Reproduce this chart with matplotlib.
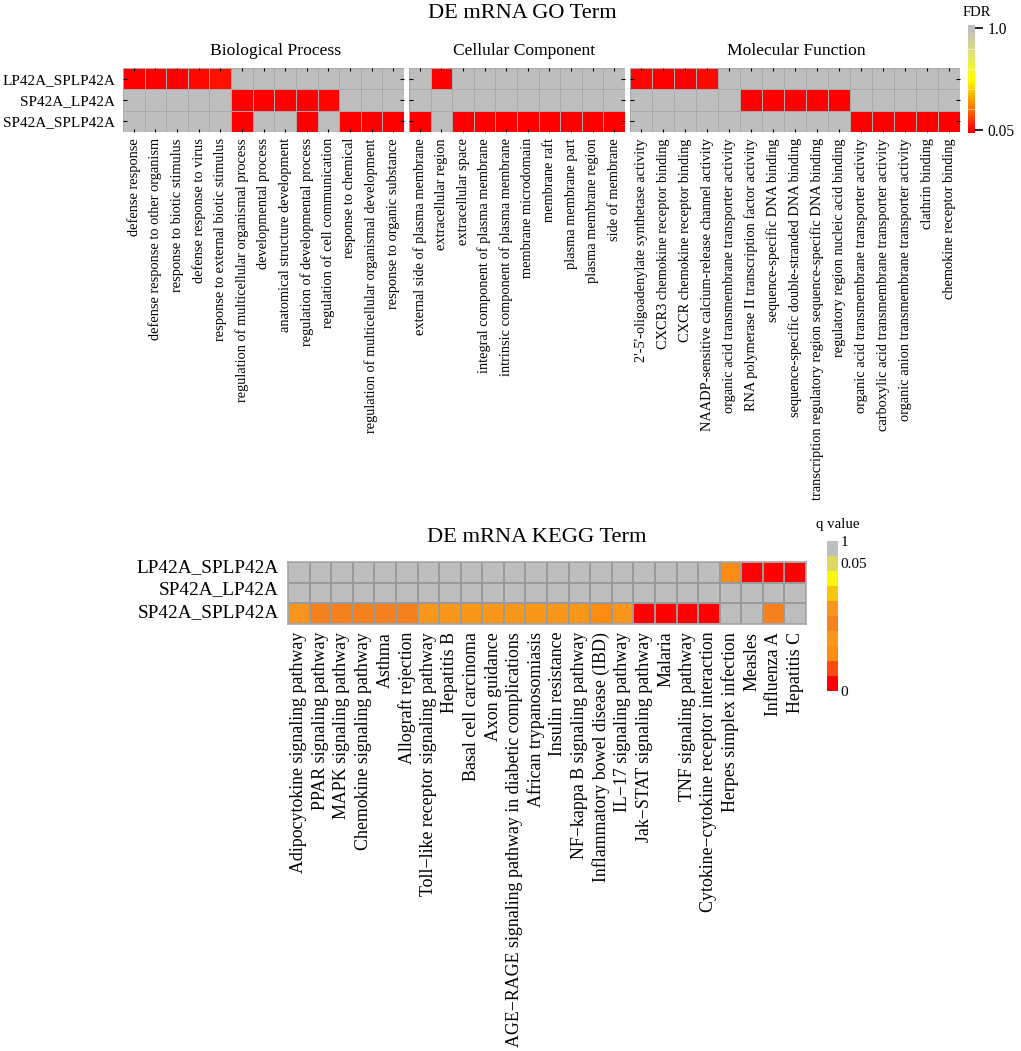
import matplotlib
matplotlib.use("Agg")
import matplotlib.pyplot as plt
import numpy as np
from matplotlib.colors import LinearSegmentedColormap, ListedColormap, BoundaryNorm, Normalize
from matplotlib.cm import ScalarMappable

plt.rcParams['font.family'] = ['Liberation Serif', 'DejaVu Sans']

rows = ["LP42A_SPLP42A", "SP42A_LP42A", "SP42A_SPLP42A"]

bp_terms = ["defense response", "defense response to other organism", "response to biotic stimulus",
            "defense response to virus", "response to external biotic stimulus",
            "regulation of multicellular organismal process", "developmental process",
            "anatomical structure development", "regulation of developmental process",
            "regulation of cell communication", "response to chemical",
            "regulation of multicellular organismal development", "response to organic substance"]
bp_row1 = [.05, .05, .05, .07, .08, 1, 1, 1, 1, 1, 1, 1, 1]
bp_row2 = [1, 1, 1, 1, 1, .05, .05, .05, .05, .06, 1, 1, 1]
bp_row3 = [1, 1, 1, 1, 1, .05, 1, 1, .05, 1, .05, .05, .05]

cc_terms = ["external side of plasma membrane", "extracellular region", "extracellular space",
            "integral component of plasma membrane", "intrinsic component of plasma membrane",
            "membrane microdomain", "membrane raft", "plasma membrane part",
            "plasma membrane region", "side of membrane"]
cc_row1 = [1, .05, 1, 1, 1, 1, 1, 1, 1, 1]
cc_row2 = [1, 1, 1, 1, 1, 1, 1, 1, 1, 1]
cc_row3 = [.05, 1, .05, .05, .05, .05, .05, .05, .05, .05]

mf_terms = ["2'-5'-oligoadenylate synthetase activity", "CXCR3 chemokine receptor binding",
            "CXCR chemokine receptor binding", "NAADP-sensitive calcium-release channel activity",
            "organic acid transmembrane transporter activity", "RNA polymerase II transcription factor activity",
            "sequence-specific DNA binding", "sequence-specific double-stranded DNA binding",
            "transcription regulatory region sequence-specific DNA binding", "regulatory region nucleic acid binding",
            "organic acid transmembrane transporter activity", "carboxylic acid transmembrane transporter activity",
            "organic anion transmembrane transporter activity", "clathrin binding", "chemokine receptor binding"]
mf_row1 = [.06, .05, .05, .07, 1, 1, 1, 1, 1, 1, 1, 1, 1, 1, 1]
mf_row2 = [1, 1, 1, 1, 1, .05, .05, .05, .05, .05, 1, 1, 1, 1, 1]
mf_row3 = [1, 1, 1, 1, 1, 1, 1, 1, 1, 1, .05, .05, .05, .05, .05]

kegg_terms = ["Adipocytokine signaling pathway", "PPAR signaling pathway", "MAPK signaling pathway",
              "Chemokine signaling pathway", "Asthma", "Allograft rejection",
              "Toll\u2212like receptor signaling pathway", "Hepatitis B", "Basal cell carcinoma", "Axon guidance",
              "AGE\u2212RAGE signaling pathway in diabetic complications", "African trypanosomiasis",
              "Insulin resistance", "NF\u2212kappa B signaling pathway", "Inflammatory bowel disease (IBD)",
              "IL\u221217 signaling pathway", "Jak\u2212STAT signaling pathway", "Malaria", "TNF signaling pathway",
              "Cytokine\u2212cytokine receptor interaction", "Herpes simplex infection", "Measles",
              "Influenza A", "Hepatitis C"]
kegg_row1 = [1] * 20 + [.012, .001, .001, .001]
kegg_row2 = [1] * 24
kegg_row3 = [.027, .022, .022, .022, .022, .022, .017, .017, .017, .017, .017, .017, .017, .017,
             .012, .017, .001, .001, .001, .001, 1, 1, .022, 1]

kegg_levels = [0, .005, .01, .015, .02, .025, .03, .035, .04, .06, 1]
kegg_colors = ["#ff0000", "#ff4a10", "#fc8c12", "#fa961a", "#f5821f", "#f9941c",
               "#fcc50a", "#f8f80c", "#dcd860", "#bebebe"]

go_cmap = LinearSegmentedColormap.from_list(
    "go", [(0, "#ff0000"), (.03, "#ff0000"), (.27, "#ff8c00"), (.5, "#ffff00"),
           (.75, "#e0e080"), (.97, "#bebebe"), (1, "#bebebe")])
go_norm = Normalize(0.02, 1.03)
kegg_cmap = ListedColormap(kegg_colors)
kegg_norm = BoundaryNorm(kegg_levels, kegg_cmap.N)

W, H = 1021, 1051
fig = plt.figure(figsize=(W / 100, H / 100), dpi=100)


def axpx(x0, y0, x1, y1):
    return fig.add_axes([x0 / W, 1 - y1 / H, (x1 - x0) / W, (y1 - y0) / H])


def go_panel(box, terms, r1, r2, r3, title, title_x, first=False):
    ax = axpx(*box)
    ax.pcolormesh(np.array([r1, r2, r3]), cmap=go_cmap, norm=go_norm,
                  edgecolors="#a9a9a9", linewidth=0.7)
    ax.set_ylim(3, 0)
    ax.set_xticks(np.arange(len(terms)) + .5)
    ax.set_xticklabels(terms, rotation=90, fontsize=10.4, ha="center", va="top")
    ax.set_yticks(np.arange(3) + .5)
    ax.set_yticklabels(rows if first else [], fontsize=11)
    ax.tick_params(axis="x", direction="in", top=True, bottom=True, length=2.5, width=.8, pad=4.5)
    ax.tick_params(axis="y", direction="in", left=True, right=True, length=3, width=.8, pad=5.5)
    for s in ax.spines.values():
        s.set_visible(False)
    fig.text(title_x / W, 1 - 51 / H, title, fontsize=12.6, ha="center", va="center")


go_panel((123, 68, 404, 132), bp_terms, bp_row1, bp_row2, bp_row3, "Biological Process", 276, True)
go_panel((409, 68, 625, 132), cc_terms, cc_row1, cc_row2, cc_row3, "Cellular Component", 524)
go_panel((630, 68, 960, 132), mf_terms, mf_row1, mf_row2, mf_row3, "Molecular Function", 796)
fig.text(522 / W, 1 - 14 / H, "DE mRNA GO Term", fontsize=16.1, ha="center", va="center")

cax = axpx(968, 25, 975, 133)
cb = fig.colorbar(ScalarMappable(norm=go_norm, cmap=go_cmap), cax=cax, ticks=[0.05, 1.0])
cb.ax.set_yticklabels(["0.05", "1.0"], fontsize=11.2)
cb.ax.tick_params(length=5.5, width=1.2, direction="out", pad=3.5, right=True)
cb.ax.minorticks_off()
cb.outline.set_visible(False)
for v in [.24, .43, .62, .81]:
    cax.axhline(v, color="white", lw=.6, alpha=.6)
fig.text(977 / W, 1 - 12 / H, "FDR", fontsize=10.5, ha="center", va="center")

ax = axpx(288, 562, 806, 623.5)
ax.pcolormesh(np.array([kegg_row1, kegg_row2, kegg_row3]), cmap=kegg_cmap, norm=kegg_norm,
              edgecolors="#9a9a9a", linewidth=1.4)
ax.set_ylim(3, 0)
ax.set_xticks(np.arange(len(kegg_terms)) + .5)
ax.set_xticklabels(kegg_terms, rotation=90, fontsize=12.9, ha="center", va="top")
ax.set_yticks([.17, 1.25, 2.38])
ax.set_yticklabels(rows, fontsize=13.9)
ax.tick_params(length=0, pad=6.5)
ax.tick_params(axis="x", pad=6)
for s in ax.spines.values():
    s.set_color("#a8a8a8")
    s.set_linewidth(1.2)
fig.text(537 / W, 1 - 537 / H, "DE mRNA KEGG Term", fontsize=16.2, ha="center", va="center")

cax2 = axpx(827, 541, 838, 691)
cb2 = fig.colorbar(ScalarMappable(norm=kegg_norm, cmap=kegg_cmap), cax=cax2, spacing="uniform",
                   ticks=[0, .05, 1])
cb2.ax.set_yticklabels(["0", "0.05", "1"], fontsize=11)
cb2.ax.tick_params(length=0, pad=2)
cb2.ax.minorticks_off()
cb2.outline.set_visible(False)
fig.text(838 / W, 1 - 525 / H, "q value", fontsize=10.7, ha="center", va="center")

fig.savefig("out.png", dpi=100, facecolor="white")
